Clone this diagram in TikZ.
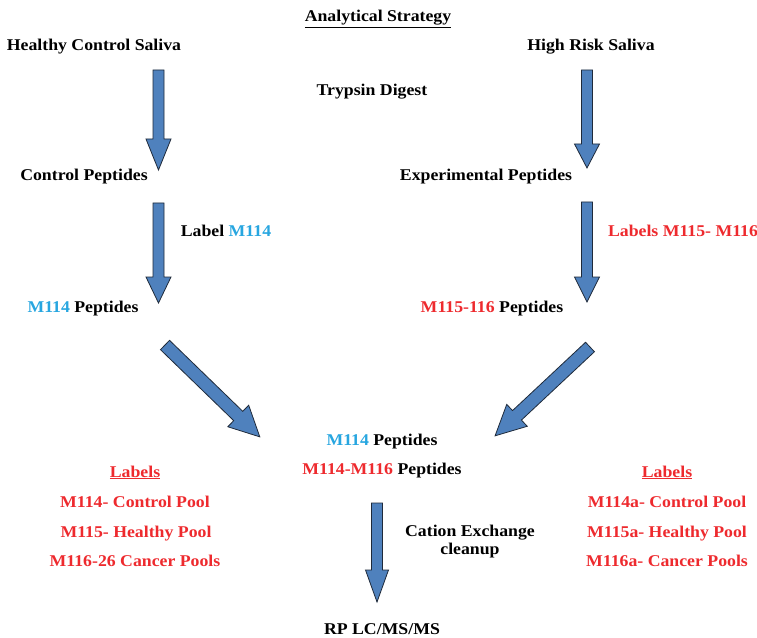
\documentclass[tikz,border=0pt]{standalone}
\usepackage{fontspec}
\setmainfont{Liberation Serif}[FakeStretch=1.08]
\definecolor{arrowblue}{HTML}{4F81BD}
\definecolor{arrowedge}{HTML}{1F2A3A}
\definecolor{lblred}{HTML}{EE2A2E}
\definecolor{lblblue}{HTML}{27A6E0}
% block arrow: #1,#2 tail centre, #3 direction (deg), #4 length,
% #5 shaft half width, #6 head half width, #7 head length
\newcommand\blockarrow[7]{%
  \begin{scope}[shift={(#1,#2)}, rotate=#3]
    \draw[blockarrow] (0,-#5) -- ({#4-#7},-#5) -- ({#4-#7},-#6) -- (#4,0)
      -- ({#4-#7},#6) -- ({#4-#7},#5) -- (0,#5) -- cycle;
  \end{scope}}
\tikzset{
  blockarrow/.style={fill=arrowblue, draw=arrowedge, line width=0.8pt, line join=miter},
  txt/.style={inner sep=0pt, anchor=base, font=\fontsize{16.5}{18}\selectfont\bfseries},
  redtxt/.style={txt, text=lblred},
}
\begin{document}
\begin{tikzpicture}[x=1bp, y=-1bp]
\useasboundingbox[fill=white] (0,0) rectangle (757,638);

% titles and sample sources
\node[txt] (title) at (378,22) {\underline{Analytical Strategy}};
\node[txt] (healthy) at (94,51) {Healthy Control Saliva};
\node[txt] (risk) at (591,51) {High Risk Saliva};
\node[txt] (trypsin) at (372,96) {Trypsin Digest};

% peptides after digestion
\node[txt] (ctrlpep) at (84,181) {Control Peptides};
\node[txt] (exppep) at (486,181) {Experimental Peptides};
\node[txt] (lab114) at (226,236) {Label \textcolor{lblblue}{M114}};
\node[redtxt] (lab115) at (683,236) {Labels M115- M116};

% labelled peptides
\node[txt] (pep114) at (83,312) {\textcolor{lblblue}{M114} Peptides};
\node[txt] (pep115) at (492,312) {\textcolor{lblred}{M115-116} Peptides};

% pooled peptides
\node[txt] (pool114) at (382,445) {\textcolor{lblblue}{M114} Peptides};
\node[txt] (poolall) at (382,474) {\textcolor{lblred}{M114-M116} Peptides};

% label legends
\node[redtxt] (leglhead) at (135,477) {\underline{Labels}};
\node[redtxt] (legl1) at (135,507) {M114- Control Pool};
\node[redtxt] (legl2) at (136,537) {M115- Healthy Pool};
\node[redtxt] (legl3) at (135,566) {M116-26 Cancer Pools};
\node[redtxt] (legrhead) at (667,477) {\underline{Labels}};
\node[redtxt] (legr1) at (667,507) {M114a- Control Pool};
\node[redtxt] (legr2) at (667,537) {M115a- Healthy Pool};
\node[redtxt] (legr3) at (667,566) {M116a- Cancer Pools};

% cleanup and analysis
\node[txt] (cation) at (470,536) {Cation Exchange};
\node[txt] (cleanup) at (470,554) {cleanup};
\node[txt] (rplc) at (382,634) {RP LC/MS/MS};

% block arrows
\blockarrow{158.5}{70}{-90}{100}{5.5}{12.5}{31}
\blockarrow{158.5}{203}{-90}{100}{5.5}{12.5}{26}
\blockarrow{587}{70}{-90}{98}{5.5}{12.5}{24}
\blockarrow{587}{202}{-90}{100}{5.5}{12.5}{25}
\blockarrow{165}{345}{-44.1}{132}{6.5}{15}{30}
\blockarrow{590}{347}{-136.9}{130}{6.5}{15}{30}
\blockarrow{377}{503}{-90}{99}{5.5}{11.5}{32}
\end{tikzpicture}
\end{document}
